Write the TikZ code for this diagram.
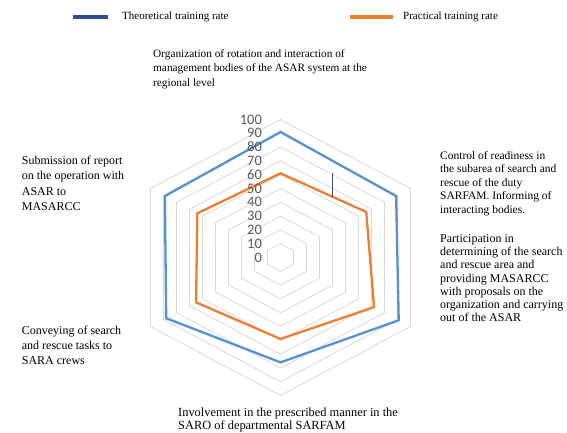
\documentclass[tikz,border=0pt]{standalone}
\usepackage{fontspec}
\setmainfont{Liberation Serif}
\newfontfamily\axisfont{Carlito}
\usepackage{tikz}
\usetikzlibrary{positioning}

\begin{document}
\begin{tikzpicture}[x=1pt, y=-1pt, align=left,
    ringline/.style={draw=ringgray, line width=0.8pt},
    series/.style={line width=2.3pt, line join=miter},
    textbox/.style={inner sep=0pt, anchor=north west},
    ticklabel/.style={inner sep=0pt, anchor=east, text=axisgray, font=\axisfont\fontsize{14.5}{14.5}\selectfont}]
        % Define colors
        \definecolor{theoblue}{RGB}{84,146,212}
        \definecolor{legendblue}{RGB}{46,80,145}
        \definecolor{practorange}{RGB}{237,125,49}
        \definecolor{ringgray}{RGB}{217,217,217}
        \definecolor{axisgray}{RGB}{89,89,89}

        \useasboundingbox (0,0) rectangle (567,433);

        % Legend
        \coordinate (theoL) at (73,17);
        \coordinate (theoR) at (108,17);
        \coordinate (practL) at (350,17);
        \coordinate (practR) at (393,17);
        \draw[legendblue, line width=3.5pt] (theoL) -- (theoR);
        \draw[practorange, line width=3.5pt] (practL) -- (practR);
        \node[inner sep=0pt, right=14pt of theoR, font=\fontsize{11}{13}\selectfont] (theoText) {Theoretical training rate};
        \node[inner sep=0pt, right=10pt of practR, font=\fontsize{11}{13}\selectfont] (practText) {Practical training rate};

        % Radar chart
        \begin{scope}[shift={(280.5,257.5)}, x=1.5pt, y=1.38pt]
            \foreach \r in {10,20,...,100} {
                \draw[ringline] (90:\r) -- (30:\r) -- (-30:\r) -- (-90:\r) -- (210:\r) -- (150:\r) -- cycle;
            }
            \draw[series, theoblue] (90:91) -- (30:89) -- (-30:91) -- (-90:76) -- (210:88) -- (150:89) -- cycle;
            \draw[series, practorange] (90:61) -- (30:66) -- (-30:72) -- (-90:59) -- (210:65) -- (150:64) -- cycle;
            \foreach \v in {0,10,...,100} {
                \node[ticklabel] (tick\v) at (-12.3,\v) {\v};
            }
        \end{scope}
        \draw[black!70, line width=0.6pt] (332.7,172.7) -- (332.7,196.7);

        % Category labels
        \node[textbox, font=\fontsize{11.3}{14.7}\selectfont] (catTop) at (153,49)
            {Organization of rotation and interaction of\\management bodies of the ASAR system at the\\regional level};
        \node[textbox, font=\fontsize{11.5}{13.5}\selectfont] (catUpRight) at (440,151)
            {Control of readiness in\\the subarea of search and\\rescue of the duty\\SARFAM. Informing of\\interacting bodies.};
        \node[textbox, font=\fontsize{12}{13.3}\selectfont] (catLowRight) at (440,234)
            {Participation in\\determining of the search\\and rescue area and\\providing MASARCC\\with proposals on the\\organization and carrying\\out of the ASAR};
        \node[textbox, font=\fontsize{12}{15.3}\selectfont] (catUpLeft) at (21.7,156)
            {Submission of report\\on the operation with\\ASAR to\\MASARCC};
        \node[textbox, font=\fontsize{12}{15}\selectfont] (catLowLeft) at (21.7,326)
            {Conveying of search\\and rescue tasks to\\SARA crews};
        \node[textbox, font=\fontsize{12.4}{13.3}\selectfont] (catBottom) at (178,407.5)
            {Involvement in the prescribed manner in the\\SARO of departmental SARFAM};
    \end{tikzpicture}
\end{document}
